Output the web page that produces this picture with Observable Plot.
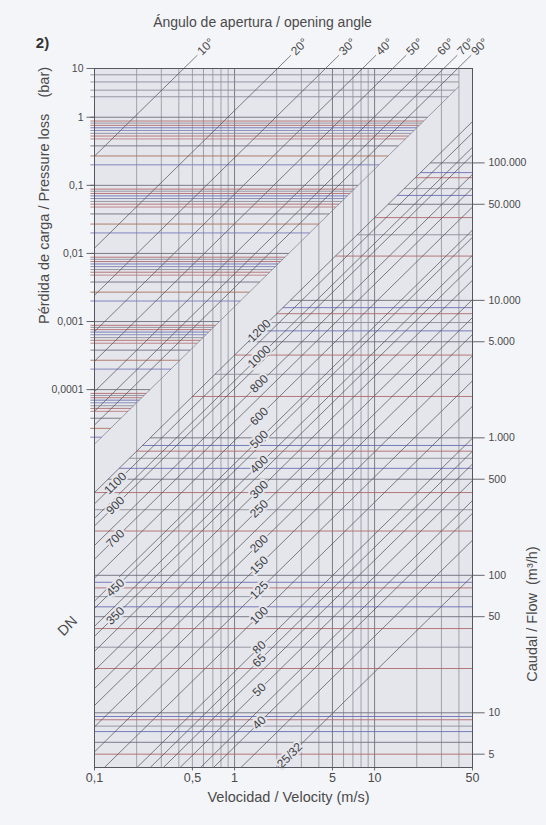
<!DOCTYPE html>
<html><head><meta charset="utf-8">
<script src="https://cdn.jsdelivr.net/npm/d3@7"></script>
<script src="https://cdn.jsdelivr.net/npm/@observablehq/plot@0.6"></script>
<style>
html,body{margin:0;padding:0;background:#f4f5f9;}
#chart svg{display:block;}
</style></head><body><div id="chart"></div>
<script>
// ---------- data ----------
const velocityTicks = [0.1, 0.5, 1, 5, 10, 50];
const velocityGrid = [0.2, 0.3, 0.4, 0.5, 0.6, 0.7, 0.8, 0.9, 1, 2, 3, 4, 5, 6, 7, 8, 9, 10, 20, 30, 40];
const velocityGridStrong = [1, 5, 10];

const flowTicks = [5, 10, 50, 100, 500, 1000, 5000, 10000, 50000, 100000];
const flowLines = [
  100000, 85000, 78000, 65000, 58000, 50000, 40000, 30000, 21000,
  10000, 8850, 8000, 6900, 6000, 5000, 4000, 2900, 2000,
  1000, 880, 800, 710, 600, 500, 400, 300, 210,
  100, 89, 81, 70, 59, 50, 41, 30, 21,
  10, 9.4, 8.9, 8, 7.3, 6.1, 5, 4
];

const pressureTicks = [10, 1, 0.1, 0.01, 0.001, 0.0001];
const pressureTop = [4.2, 3.3, 2.5, 2];
const pressureLines = [
  1, 0.88, 0.82, 0.76, 0.7, 0.64, 0.58, 0.53, 0.48, 0.38, 0.27, 0.2,
  0.1, 0.088, 0.082, 0.076, 0.07, 0.064, 0.058, 0.053, 0.048, 0.038, 0.027, 0.02,
  0.01, 0.0088, 0.0082, 0.0076, 0.007, 0.0064, 0.0058, 0.0053, 0.0048, 0.0038, 0.0027, 0.002,
  0.001, 0.00088, 0.00082, 0.00076, 0.0007, 0.00064, 0.00058, 0.00053, 0.00048, 0.00038, 0.00027, 0.0002,
  0.0001, 0.000088, 0.000082, 0.000076, 0.00007, 0.000064, 0.000058, 0.000053, 0.000048, 0.000038, 0.000027, 0.00002
];

// opening-angle lines: equivalent flow at 1 m/s
const angleLabels = ["10°", "20°", "30°", "40°", "50°", "60°", "70°", "90°"];
const angleFlowAt1 = [1120000, 240000, 109000, 59300, 36100, 21700, 15600, 12400];

// DN lines: flow (m³/h) at 1 m/s
const dnLabels = ["1200", "1100", "1000", "900", "800", "700", "600", "500", "450", "400", "350",
                  "300", "250", "200", "150", "125", "100", "80", "65", "50", "40", "25/32"];
const dnFlowAt1 = [4000, 3311, 2600, 2285, 1650, 1311, 955, 649, 575, 426, 360,
                   280, 203, 113, 79, 52, 34, 19.9, 16, 9.8, 5.65, 1.98];
const dnLabelGroup = ["mid", "left", "mid", "left", "mid", "left", "mid", "mid", "left", "mid", "left",
                      "mid", "mid", "mid", "mid", "mid", "mid", "mid", "mid", "mid", "mid", "mid"];
const dnExtraFlowAt1 = [150, 12.9, 7.0, 3.6];

// ---------- scales / nomogram coupling ----------
const xDomain = [0.1, 50];
const yDomain = [4, 486000];
const pressureToFlow = p => 214800 * Math.pow(p, 0.4953);
const upperZoneFlowAt1 = 9000;        // edge of the pressure-loss zone
const lowerZoneFlowAt1 = dnFlowAt1[0]; // DN 1200 line bounds the flow zone
const upperZoneMaxV = 40;
const midLabelV = 1.5, leftLabelV = 0.141, minLabelFlow = 4.9;
const lineAngle = -44.5;

// ---------- styles ----------
const frameFill = "#e5e6ec";
const RED = "#b06a6c", BLUE = "#6a6fb2", GREY = "#8c8d99", DARK = "#6f6f7c", BLUE2 = "#7e82b6", BROWN = "#a9725f";
const upperPattern = [DARK, RED, GREY, RED, BLUE, BLUE2, GREY, RED, "#b97b7d", DARK, BROWN, "#767cb8"];
const lowerPattern = [DARK, BLUE, RED, GREY, BLUE, DARK, RED, GREY, RED];

const upperRows = [
  ...pressureTop.map(p => ({p, color: GREY})),
  ...pressureLines.map((p, i) => ({p, color: upperPattern[i % upperPattern.length]}))
].map(d => {
  const f = pressureToFlow(d.p);
  return {...d, f, x1: xDomain[0] / 1.07, x2: Math.min(upperZoneMaxV, f / upperZoneFlowAt1)};
});

const lowerRows = flowLines.map((f, i) => ({
  f, x1: Math.max(xDomain[0], f / lowerZoneFlowAt1), x2: xDomain[1],
  color: i === flowLines.length - 1 ? RED : lowerPattern[i % lowerPattern.length]
}));

const dnAll = [...dnFlowAt1, ...dnExtraFlowAt1].map(q => {
  const x1 = Math.max(xDomain[0], yDomain[0] / q);
  return {q, x1, y1: q * x1, x2: xDomain[1], y2: q * xDomain[1]};
});

const dnText = dnLabels.map((label, i) => {
  const q = dnFlowAt1[i];
  const v = dnLabelGroup[i] === "left" ? leftLabelV : Math.max(midLabelV, minLabelFlow / q);
  return {label, x: v, y: q * v};
});

const angleEndFlow = yDomain[1] * 1.25;
const angleRows = angleLabels.map((label, i) => {
  const c = angleFlowAt1[i];
  return {label, x1: xDomain[0], y1: c * xDomain[0], x2: angleEndFlow / c, y2: angleEndFlow};
});

const euro = d => d3.format(",")(d).replace(/,/g, ".");
const comma = d => String(d).replace(".", ",");
const pTickY = p => Math.min(yDomain[1], pressureToFlow(p));

const font = "'Liberation Sans', Arial, Helvetica, sans-serif";
const txt = "#4a4a4a";

const plot = Plot.plot({
  width: 546, height: 825,
  marginLeft: 94, marginRight: 74, marginTop: 68, marginBottom: 58,
  x: {type: "log", domain: xDomain, axis: null},
  y: {type: "log", domain: yDomain, axis: null},
  color: {type: "identity"},
  style: {background: "transparent", fontFamily: font, color: txt},
  marks: [
    Plot.frame({fill: frameFill, stroke: null}),
    Plot.ruleX(velocityGrid, {x: d => d, stroke: d => velocityGridStrong.includes(d) ? "#5e5f68" : "#8e9099", strokeWidth: 0.8}),
    Plot.link(upperRows, {x1: "x1", x2: "x2", y1: "f", y2: "f", stroke: "color", strokeWidth: 0.9}),
    Plot.link(lowerRows, {x1: "x1", x2: "x2", y1: "f", y2: "f", stroke: "color", strokeWidth: 0.9}),
    Plot.link([upperZoneFlowAt1], {x1: xDomain[0], x2: upperZoneMaxV, y1: c => c * xDomain[0], y2: c => c * upperZoneMaxV, stroke: "#7a7b86", strokeWidth: 0.7}),
    Plot.link(angleRows, {x1: "x1", y1: "y1", x2: "x2", y2: "y2", stroke: "#55565e", strokeWidth: 0.75}),
    Plot.link(dnAll, {x1: "x1", y1: "y1", x2: "x2", y2: "y2", stroke: "#55565e", strokeWidth: 0.75}),
    Plot.text(dnText, {x: "x", y: "y", text: "label", rotate: lineAngle, textAnchor: "middle", fontSize: 12, fill: "#3e3e44", stroke: frameFill, strokeWidth: 4}),
    Plot.text(angleRows, {x: "x2", y: "y2", text: "label", rotate: lineAngle, textAnchor: "start", dx: 2, dy: -2, fontSize: 12, fill: txt}),
    Plot.frame({stroke: "#55565e", strokeWidth: 1}),
    Plot.link(pressureTicks, {x1: xDomain[0] / 1.14, x2: xDomain[0], y1: pTickY, y2: pTickY, stroke: "#55565e", strokeWidth: 0.9}),
    Plot.text(pressureTicks, {y: pTickY, frameAnchor: "left", dx: -11, textAnchor: "end", text: comma, fontSize: 10.5, fill: txt}),
    Plot.link(flowTicks, {x1: xDomain[1], x2: xDomain[1] * 1.22, y1: d => d, y2: d => d, stroke: "#55565e", strokeWidth: 0.9}),
    Plot.text(flowTicks, {y: d => d, frameAnchor: "right", dx: 16, textAnchor: "start", text: euro, fontSize: 10.5, fill: txt}),
    Plot.link(velocityTicks, {x1: d => d, x2: d => d, y1: yDomain[0], y2: yDomain[0] / 1.05, stroke: "#55565e", strokeWidth: 0.9}),
    Plot.text(velocityTicks, {x: d => d, frameAnchor: "bottom", dy: 14, textAnchor: "middle", text: comma, fontSize: 12.5, fill: txt}),
    Plot.text(["2)"], {frameAnchor: "top-left", dx: -52, dy: -31, textAnchor: "middle", text: d => d, fontSize: 15, fontWeight: "bold", fill: "#333"}),
    Plot.text(["Ángulo de apertura / opening angle"], {frameAnchor: "top", dx: -21, dy: -51, textAnchor: "middle", text: d => d, fontSize: 14, fill: txt}),
    Plot.text(["Velocidad / Velocity (m/s)"], {frameAnchor: "bottom", dx: 5, dy: 34, textAnchor: "middle", text: d => d, fontSize: 14.5, fill: txt}),
    Plot.text(["Pérdida de carga / Pressure loss\u00a0\u00a0\u00a0\u00a0(bar)"], {frameAnchor: "left", dx: -50, dy: -94, rotate: -90, textAnchor: "start", text: d => d, fontSize: 14.5, fill: txt}),
    Plot.text(["Caudal / Flow\u00a0\u00a0(m³/h)"], {frameAnchor: "right", dx: 60, dy: 196, rotate: -90, textAnchor: "middle", text: d => d, fontSize: 14.5, fill: txt}),
    Plot.text(["DN"], {frameAnchor: "left", dx: -27, dy: 208, rotate: -45, textAnchor: "middle", text: d => d, fontSize: 14.5, fill: txt})
  ]
});
document.getElementById("chart").appendChild(plot);
</script>
</body></html>
